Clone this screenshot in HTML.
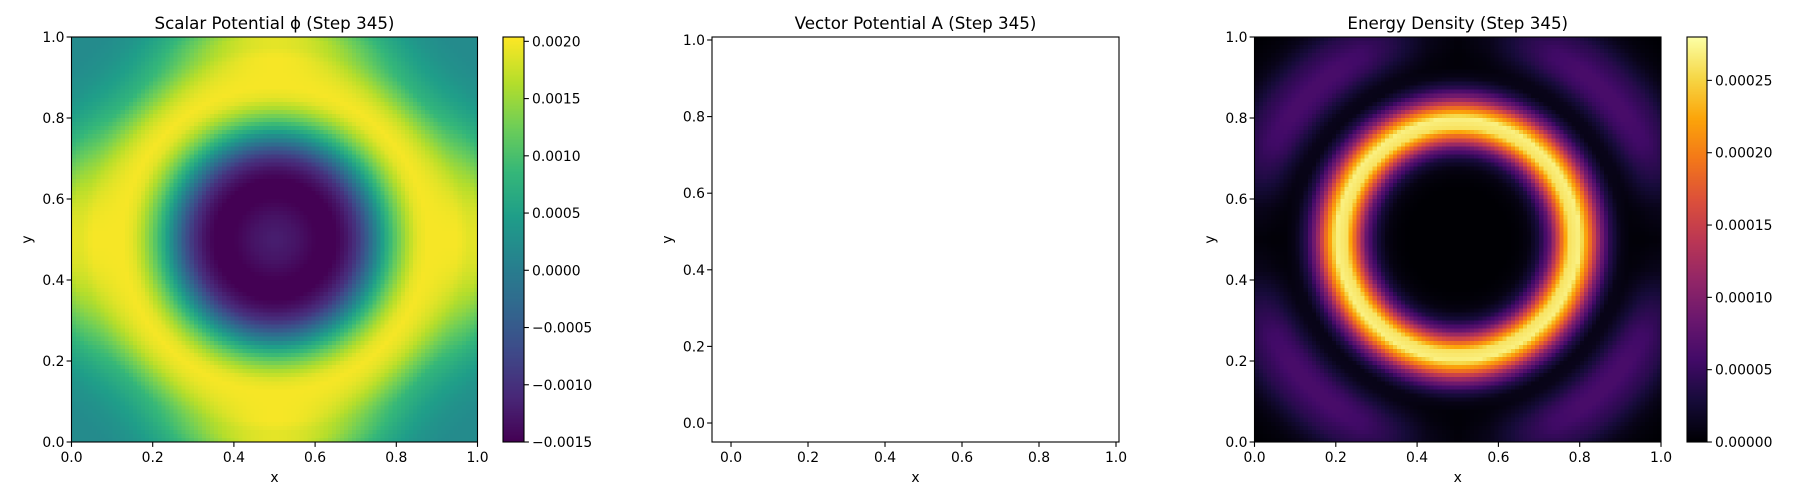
<!DOCTYPE html>
<html><head><meta charset="utf-8"><style>
html,body{margin:0;padding:0;background:#fff;width:1800px;height:500px;overflow:hidden}
#root{position:relative;width:1800px;height:500px}
canvas{position:absolute;image-rendering:pixelated}
svg{position:absolute;left:0;top:0}
text{font-family:"DejaVu Sans","Liberation Sans",sans-serif;fill:#000}
</style></head><body>
<div id="root">
<canvas id="c1"></canvas>
<canvas id="cb1"></canvas>
<canvas id="c3"></canvas>
<canvas id="cb3"></canvas>
<svg id="s" width="1800" height="500"></svg>
</div>
<script>
// radial sample positions (distance from centre 0.5,0.5)
const radii = [0,0.025,0.05,0.075,0.1,0.125,0.15,0.175,0.2,0.225,0.25,0.275,0.3,0.325,0.35,0.375,0.4,0.425,0.45,0.475,0.5,0.525,0.55,0.575,0.6,0.625,0.65,0.675,0.7,0.725];
// scalar potential radial profile along the axes
const phiAxisProfile = [-0.0012,-0.00125,-0.0013,-0.0014,-0.0015,-0.0015,-0.0015,-0.0013,-0.001,-0.0005,0.0001,0.0007,0.0012,0.0016,0.0019,0.002,0.002,0.002,0.002,0.0019,0.0019,0.0017,0.0014,0.0011,0.0008,0.0006,0.0004,0.0003,0.0002,0.0002];
// scalar potential radial profile along the diagonals
const phiDiagProfile = [-0.0012,-0.00125,-0.0013,-0.0014,-0.0015,-0.0015,-0.0015,-0.0013,-0.001,-0.0005,0.0001,0.0007,0.0012,0.0016,0.0019,0.002,0.0019,0.0017,0.0014,0.0011,0.0008,0.00065,0.0005,0.0004,0.0003,0.00025,0.0002,0.0002,0.0002,0.0002];
// energy density main ring
const ringProfile = [0,0,0,0,0,0,0.000002,0.000008,0.00003,0.00008,0.00017,0.00026,0.00027,0.00019,0.0001,0.00004,0.00001,0.000002,0,0,0,0,0,0,0,0,0,0,0,0];
// energy density outer lobe (diagonal directions)
const lobeProfile = [0,0,0,0,0,0,0,0,0,0,0,0,0,0,0,0,0,0.00001,0.00003,0.00005,0.00006,0.00006,0.00005,0.00004,0.000025,0.000012,0.000005,0.000002,0,0];
// lobe angular weighting (angle from axis, degrees 0..45)
const lobeAngles = [0,9,18,27,36,45];
const lobeWeights = [0.05,0.2,0.6,0.9,1,1];
const phiTicks = [-0.0015,-0.0010,-0.0005,0.0000,0.0005,0.0010,0.0015,0.0020];
const phiTickLabels = ["\u22120.0015","\u22120.0010","\u22120.0005","0.0000","0.0005","0.0010","0.0015","0.0020"];
const eTicks = [0,0.00005,0.0001,0.00015,0.0002,0.00025];
const eTickLabels = ["0.00000","0.00005","0.00010","0.00015","0.00020","0.00025"];
const unitTicks = [0,0.2,0.4,0.6,0.8,1.0];
const unitTickLabels = ["0.0","0.2","0.4","0.6","0.8","1.0"];
const N = 100;
const phiRange = [-0.0015,0.002038];
const eRange = [0,0.00028];

const viridis=["#440154","#482878","#3e4a89","#31688e","#26828e","#1f9e89","#35b779","#6ece58","#b5de2b","#fde725"];
const inferno=["#000004","#160b39","#420a68","#6a176e","#932667","#bc3754","#dd513a","#f37819","#fca50a","#f6d746","#fcffa4"];
function hex(h){return [parseInt(h.substr(1,2),16),parseInt(h.substr(3,2),16),parseInt(h.substr(5,2),16)];}
function cmap(stops,t){t=Math.max(0,Math.min(1,t));const n=stops.length-1;const f=t*n;const i=Math.min(n-1,Math.floor(f));const u=f-i;const a=hex(stops[i]),b=hex(stops[i+1]);return [a[0]+(b[0]-a[0])*u,a[1]+(b[1]-a[1])*u,a[2]+(b[2]-a[2])*u];}
function lerpArr(xs,ys,x){if(x<=xs[0])return ys[0];for(let i=1;i<xs.length;i++){if(x<=xs[i]){const u=(x-xs[i-1])/(xs[i]-xs[i-1]);return ys[i-1]+(ys[i]-ys[i-1])*u;}}return ys[ys.length-1];}
function angFrac(dx,dy){let a=Math.atan2(Math.abs(dy),Math.abs(dx))*180/Math.PI;if(a>45)a=90-a;return a;}

function phiAt(x,y){const dx=x-0.5,dy=y-0.5;const r=Math.hypot(dx,dy);const a=angFrac(dx,dy)/45;const w=Math.sin(a*Math.PI/2)**2;
 return lerpArr(radii,phiAxisProfile,r)*(1-w)+lerpArr(radii,phiDiagProfile,r)*w;}
function eAt(x,y){const dx=x-0.5,dy=y-0.5;const r=Math.hypot(dx,dy);
 return lerpArr(radii,ringProfile,r)+lerpArr(radii,lobeProfile,r)*lerpArr(lobeAngles,lobeWeights,angFrac(dx,dy));}

function heat(id,L,T,W,H,fn,range,stops){const c=document.getElementById(id);c.width=N;c.height=N;c.style.left=L+'px';c.style.top=T+'px';c.style.width=W+'px';c.style.height=H+'px';
 const ctx=c.getContext('2d');const img=ctx.createImageData(N,N);
 for(let j=0;j<N;j++)for(let i=0;i<N;i++){const x=(i+0.5)/N,y=1-(j+0.5)/N;const v=fn(x,y);const col=cmap(stops,(v-range[0])/(range[1]-range[0]));const k=(j*N+i)*4;img.data[k]=col[0];img.data[k+1]=col[1];img.data[k+2]=col[2];img.data[k+3]=255;}
 ctx.putImageData(img,0,0);}
function cbar(id,L,T,W,H,stops){const c=document.getElementById(id);c.width=1;c.height=256;c.style.left=L+'px';c.style.top=T+'px';c.style.width=W+'px';c.style.height=H+'px';c.style.imageRendering='auto';
 const ctx=c.getContext('2d');for(let j=0;j<256;j++){const col=cmap(stops,1-j/255);ctx.fillStyle='rgb('+col.map(Math.round).join(',')+')';ctx.fillRect(0,j,1,1);}}

const TOP=37,BOT=442;
heat('c1',71.5,TOP,406,BOT-TOP,phiAt,phiRange,viridis);
cbar('cb1',503,TOP,21,BOT-TOP,viridis);
heat('c3',1254.5,TOP,406.5,BOT-TOP,eAt,eRange,inferno);
cbar('cb3',1687,TOP,20,BOT-TOP,inferno);

const S=document.getElementById('s');const NS='http://www.w3.org/2000/svg';
function el(tag,attrs,parent){const e=document.createElementNS(NS,tag);for(const k in attrs)e.setAttribute(k,attrs[k]);(parent||S).appendChild(e);return e;}
function txt(s,x,y,anchor,size,parent){const t=el('text',{x:x,y:y,'text-anchor':anchor,'font-size':size},parent);t.textContent=s;return t;}

function axes(name,L,R,xlim,ylim,title){
 const g=el('g',{});
 
 
 const sx=v=>L+(v-xlim[0])/(xlim[1]-xlim[0])*(R-L);
 const sy=v=>BOT-(v-ylim[0])/(ylim[1]-ylim[0])*(BOT-TOP);
 const fr=el('rect',{x:L,y:TOP,width:R-L,height:BOT-TOP,fill:'none',stroke:'#000','stroke-width':1.1},g);
 
 
 unitTicks.forEach((v,i)=>{const x=sx(v);el('line',{x1:x,x2:x,y1:BOT,y2:BOT+4.9,stroke:'#000','stroke-width':1.1},g);
  const t=txt(unitTickLabels[i],x,BOT+20,'middle',13.9,g);
  const y=sy(v);el('line',{x1:L,x2:L-4.9,y1:y,y2:y,stroke:'#000','stroke-width':1.1},g);
  const t2=txt(unitTickLabels[i],L-7,y+5,'end',13.9,g);});
 const tt=txt(title,(L+R)/2,29,'middle',16.7,g);
 const xl=txt('x',(L+R)/2,482,'middle',13.9,g);
 const yl=el('text',{x:0,y:0,'text-anchor':'middle','font-size':13.9,transform:'translate('+(L-40)+','+((TOP+BOT)/2)+') rotate(-90)'},g);yl.textContent='y';
 
}
function colorbarAxis(name,L,R,range,ticks,labels){
 const g=el('g',{});
 
 
 const sy=v=>BOT-(v-range[0])/(range[1]-range[0])*(BOT-TOP);
 el('rect',{x:L,y:TOP,width:R-L,height:BOT-TOP,fill:'none',stroke:'#000','stroke-width':1.1},g);
 ticks.forEach((v,i)=>{const y=sy(v);el('line',{x1:R,x2:R+4.9,y1:y,y2:y,stroke:'#000','stroke-width':1.1},g);
  const t=txt(labels[i],R+8,y+5,'start',13.9,g);});
}
axes('scalar-potential-axes',71.5,477.5,[0,1],[0,1],'Scalar Potential \u03d5 (Step 345)');
colorbarAxis('scalar-colorbar-axis',503,524,phiRange,phiTicks,phiTickLabels);
axes('vector-potential-axes',712,1119,[-0.0494,1.0078],[-0.0496,1.0078],'Vector Potential A (Step 345)');
axes('energy-density-axes',1254.5,1661,[0,1],[0,1],'Energy Density (Step 345)');
colorbarAxis('energy-colorbar-axis',1687,1707,eRange,eTicks,eTickLabels);
</script>
</body></html>
